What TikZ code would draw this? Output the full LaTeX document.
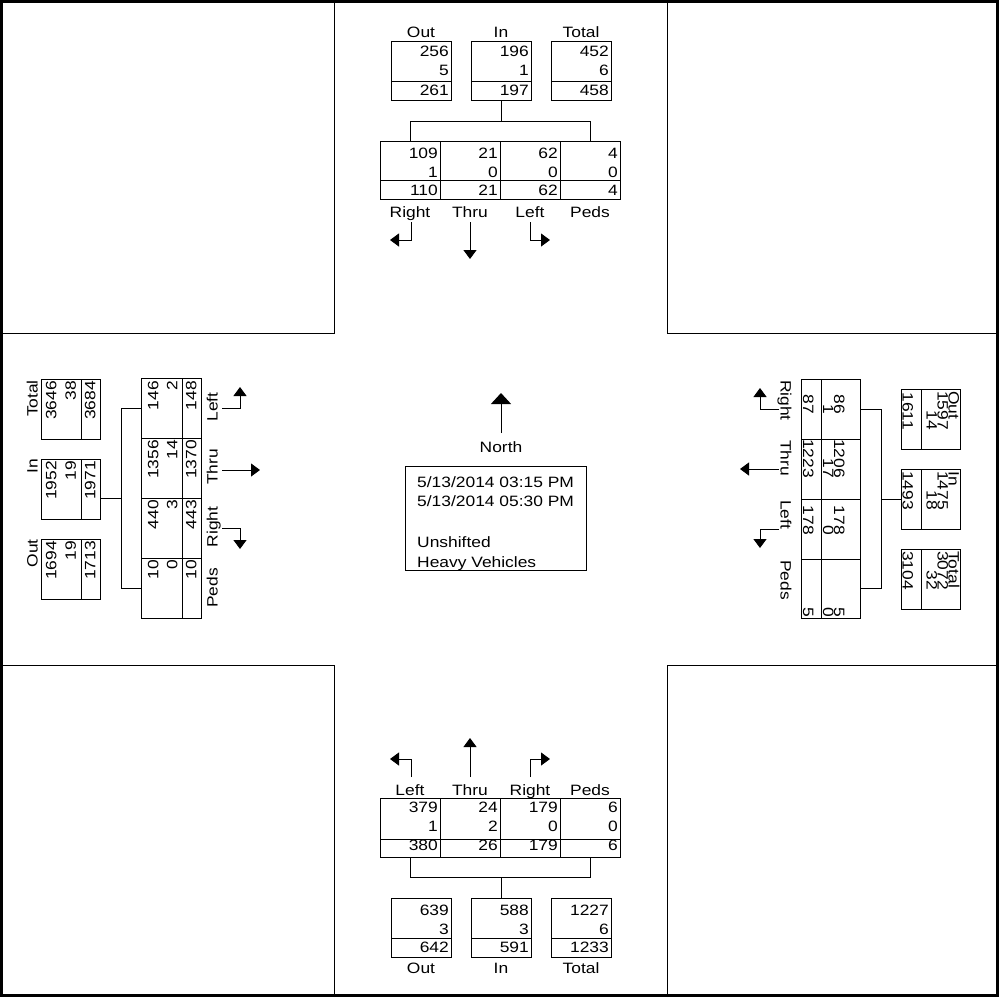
\documentclass[tikz,border=0pt]{standalone}
\usepackage{fontspec}
\setmainfont[FakeStretch=1.16]{Liberation Sans}
\usetikzlibrary{arrows.meta}
\newcommand{\fs}{\fontsize{15}{19}\selectfont}
\tikzset{
  ln/.style={line width=1pt},
  tbox/.style={draw, line width=1pt, inner sep=0pt},
  num/.style={inner sep=0pt, anchor=base east, font=\fs},
  lab/.style={inner sep=0pt, anchor=base, font=\fs},
  wnum/.style={num, rotate=90},
  wlab/.style={lab, rotate=90},
  wlabr/.style={num, rotate=90},
  enum/.style={num, rotate=-90},
  elab/.style={inner sep=0pt, anchor=base west, font=\fs, rotate=-90},
  arr/.style={line width=1pt, -{Triangle[width=13pt,length=9pt]}},
  bigarr/.style={line width=1pt, -{Triangle[width=20pt,length=11pt]}}
}
\begin{document}
\begin{tikzpicture}[x=1pt,y=-1pt]
\useasboundingbox (0,0) rectangle (999,997);
% frame and corners
\draw[line width=3pt] (1.5,1.5) rectangle (997.5,995.5);
\draw[ln] (334,0) -- (334,333) -- (0,333);
\draw[ln] (667,0) -- (667,333) -- (999,333);
\draw[ln] (334,997) -- (334,665) -- (0,665);
\draw[ln] (667,997) -- (667,665) -- (999,665);

% ================= NORTH =================
\node[tbox, minimum width=60pt, minimum height=59pt] (nOut) at (421,70.5) {};
\node[tbox, minimum width=60pt, minimum height=59pt] (nIn) at (501,70.5) {};
\node[tbox, minimum width=60pt, minimum height=59pt] (nTot) at (581,70.5) {};
\draw[ln] (391,81) -- (451,81) (471,81) -- (531,81) (551,81) -- (611,81);
\node[lab] (nOutL) at (421,37.5) {Out};
\node[lab] (nInL) at (501,37.5) {In};
\node[lab] (nTotL) at (581,37.5) {Total};
\node[num] (n1) at (449,56.4) {256};
\node[num] (n2) at (449,75.9) {5};
\node[num] (n3) at (449,95.4) {261};
\node[num] (n4) at (529,56.4) {196};
\node[num] (n5) at (529,75.9) {1};
\node[num] (n6) at (529,95.4) {197};
\node[num] (n7) at (609,56.4) {452};
\node[num] (n8) at (609,75.9) {6};
\node[num] (n9) at (609,95.4) {458};
\node[tbox, minimum width=240pt, minimum height=58pt] (nTab) at (500,170) {};
\draw[ln] (440,141) -- (440,199) (500,141) -- (500,199) (560,141) -- (560,199) (380,180) -- (620,180);
\coordinate (nc1) at (410,141);
\coordinate (nc2) at (590,141);
\draw[ln] (nIn.south) -- (501,121);
\draw[ln] (nc1) -- (410,121) -- (590,121) -- (nc2);
\foreach \x/\a/\b/\c [count=\i] in {438/109/1/110, 498/21/0/21, 558/62/0/62, 618/4/0/4} {
  \node[num] (nt\i a) at (\x,158.4) {\a};
  \node[num] (nt\i b) at (\x,177.4) {\b};
  \node[num] (nt\i c) at (\x,195.4) {\c};
}
\node[lab] (nR) at (410,217.4) {Right};
\node[lab] (nT) at (470,217.4) {Thru};
\node[lab] (nL) at (530,217.4) {Left};
\node[lab] (nP) at (590,217.4) {Peds};
\draw[arr] (411,222) -- (411,240) -- (390,240);
\draw[arr] (470,222) -- (470,259);
\draw[arr] (530,222) -- (530,240) -- (550,240);

% ================= SOUTH =================
\node[tbox, minimum width=240pt, minimum height=59pt] (sTab) at (500,827.5) {};
\draw[ln] (440,798) -- (440,857) (500,798) -- (500,857) (560,798) -- (560,857) (380,839) -- (620,839);
\node[lab] (sL) at (410,795.4) {Left};
\node[lab] (sT) at (470,795.4) {Thru};
\node[lab] (sR) at (530,795.4) {Right};
\node[lab] (sP) at (590,795.4) {Peds};
\draw[arr] (411,777) -- (411,759) -- (390,759);
\draw[arr] (470,777) -- (470,738);
\draw[arr] (530,777) -- (530,759) -- (550,759);
\foreach \x/\a/\b/\c [count=\i] in {438/379/1/380, 498/24/2/26, 558/179/0/179, 618/6/0/6} {
  \node[num] (st\i a) at (\x,812.4) {\a};
  \node[num] (st\i b) at (\x,831.4) {\b};
  \node[num] (st\i c) at (\x,850.4) {\c};
}
\node[tbox, minimum width=60pt, minimum height=59pt] (sOut) at (421,927.5) {};
\node[tbox, minimum width=60pt, minimum height=59pt] (sIn) at (501,927.5) {};
\node[tbox, minimum width=60pt, minimum height=59pt] (sTot) at (581,927.5) {};
\draw[ln] (391,938) -- (451,938) (471,938) -- (531,938) (551,938) -- (611,938);
\coordinate (sc1) at (410,857);
\coordinate (sc2) at (590,857);
\draw[ln] (sc1) -- (410,877) -- (590,877) -- (sc2);
\draw[ln] (sIn.north) -- (501,877);
\node[num] (s1) at (449,915.4) {639};
\node[num] (s2) at (449,934.4) {3};
\node[num] (s3) at (449,952.4) {642};
\node[num] (s4) at (529,915.4) {588};
\node[num] (s5) at (529,934.4) {3};
\node[num] (s6) at (529,952.4) {591};
\node[num] (s7) at (609,915.4) {1227};
\node[num] (s8) at (609,934.4) {6};
\node[num] (s9) at (609,952.4) {1233};
\node[lab] (sOutL) at (421,973.4) {Out};
\node[lab] (sInL) at (501,973.4) {In};
\node[lab] (sTotL) at (581,973.4) {Total};

% ================= WEST =================
\node[tbox, minimum width=59pt, minimum height=60pt] (wTot) at (70.5,409) {};
\node[tbox, minimum width=59pt, minimum height=60pt] (wIn) at (70.5,489) {};
\node[tbox, minimum width=59pt, minimum height=60pt] (wOut) at (70.5,569) {};
\draw[ln] (81,379) -- (81,439) (81,459) -- (81,519) (81,539) -- (81,599);
\node[wlabr] (wTotL) at (37.5,380) {Total};
\node[wlabr] (wInL) at (37.5,459) {In};
\node[wlabr] (wOutL) at (37.5,539) {Out};
\node[wnum] (w1) at (56.4,381) {3646};
\node[wnum] (w2) at (75.9,381) {38};
\node[wnum] (w3) at (95.4,381) {3684};
\node[wnum] (w4) at (56.4,461) {1952};
\node[wnum] (w5) at (75.9,461) {19};
\node[wnum] (w6) at (95.4,461) {1971};
\node[wnum] (w7) at (56.4,541) {1694};
\node[wnum] (w8) at (75.9,541) {19};
\node[wnum] (w9) at (95.4,541) {1713};
\node[tbox, minimum width=60pt, minimum height=240pt] (wTab) at (171,498) {};
\draw[ln] (141,438) -- (201,438) (141,498) -- (201,498) (141,558) -- (201,558) (182,378) -- (182,618);
\coordinate (wc1) at (141,408);
\coordinate (wc2) at (141,588);
\draw[ln] (wc1) -- (121,408) -- (121,588) -- (wc2);
\draw[ln] (wIn.east |- 0,498) -- (121,498);
\foreach \y/\a/\b/\c [count=\i] in {381/146/2/148, 440/1356/14/1370, 500/440/3/443, 560/10/0/10} {
  \node[wnum] (wt\i a) at (158.4,\y) {\a};
  \node[wnum] (wt\i b) at (177.4,\y) {\b};
  \node[wnum] (wt\i c) at (196.4,\y) {\c};
}
\node[wlab] (wL) at (217.5,407) {Left};
\node[wlab] (wT) at (217.5,467) {Thru};
\node[wlab] (wR) at (217.5,527) {Right};
\node[wlab] (wP) at (217.5,588) {Peds};
\draw[arr] (222,408) -- (240,408) -- (240,387);
\draw[arr] (222,470) -- (260,470);
\draw[arr] (222,528) -- (240,528) -- (240,549);

% ================= EAST =================
\node[tbox, minimum width=59pt, minimum height=239pt] (eTab) at (830.5,498.5) {};
\draw[ln] (801,439) -- (860,439) (801,499) -- (860,499) (801,559) -- (860,559) (821,379) -- (821,618);
\coordinate (ec1) at (860,409);
\coordinate (ec2) at (860,588);
\draw[ln] (ec1) -- (881,409) -- (881,588) -- (ec2);
\foreach \y/\a/\b/\c [count=\i] in {414/86/1/87, 478/1206/17/1223, 535/178/0/178, 617/5/0/5} {
  \node[enum] (et\i a) at (834,\y) {\a};
  \node[enum] (et\i b) at (823,\y) {\b};
  \node[enum] (et\i c) at (803,\y) {\c};
}
\node[elab] (eR) at (780.5,380) {Right};
\node[elab] (eT) at (780.5,440) {Thru};
\node[elab] (eL) at (780.5,500) {Left};
\node[elab] (eP) at (780.5,560) {Peds};
\draw[arr] (779,409) -- (760,409) -- (760,388);
\draw[arr] (779,469) -- (740,469);
\draw[arr] (779,529) -- (760,529) -- (760,548);
\node[tbox, minimum width=59pt, minimum height=60pt] (eOut) at (930.5,419) {};
\node[tbox, minimum width=59pt, minimum height=60pt] (eIn) at (930.5,499) {};
\node[tbox, minimum width=59pt, minimum height=60pt] (eTot) at (930.5,579) {};
\draw[ln] (921,389) -- (921,449) (921,469) -- (921,529) (921,549) -- (921,609);
\draw[ln] (881,499) -- (eIn.west);
\node[elab] (eOutL) at (948.5,391) {Out};
\node[elab] (eInL) at (948.5,471) {In};
\node[elab] (eTotL) at (948.5,551) {Total};
\node[enum] (e1) at (937.5,430) {1597};
\node[enum] (e2) at (926.5,430) {14};
\node[enum] (e3) at (902.5,430) {1611};
\node[enum] (e4) at (937.5,510) {1475};
\node[enum] (e5) at (926.5,510) {18};
\node[enum] (e6) at (902.5,510) {1493};
\node[enum] (e7) at (937.5,590) {3072};
\node[enum] (e8) at (926.5,590) {32};
\node[enum] (e9) at (902.5,590) {3104};

% ================= CENTRE =================
\coordinate (nb) at (501,433);
\coordinate (nt) at (501,393);
\draw[bigarr] (nb) -- (nt);
\node[lab] (north) at (501,452) {North};
\node[tbox, minimum width=181pt, minimum height=104pt] (info) at (495.5,518) {};
\node[inner sep=0pt, anchor=base west, font=\fs] (i1) at (417,487) {5/13/2014 03:15 PM};
\node[inner sep=0pt, anchor=base west, font=\fs] (i2) at (417,506) {5/13/2014 05:30 PM};
\node[inner sep=0pt, anchor=base west, font=\fs] (i3) at (417,547) {Unshifted};
\node[inner sep=0pt, anchor=base west, font=\fs] (i4) at (417,567) {Heavy Vehicles};
\end{tikzpicture}
\end{document}
